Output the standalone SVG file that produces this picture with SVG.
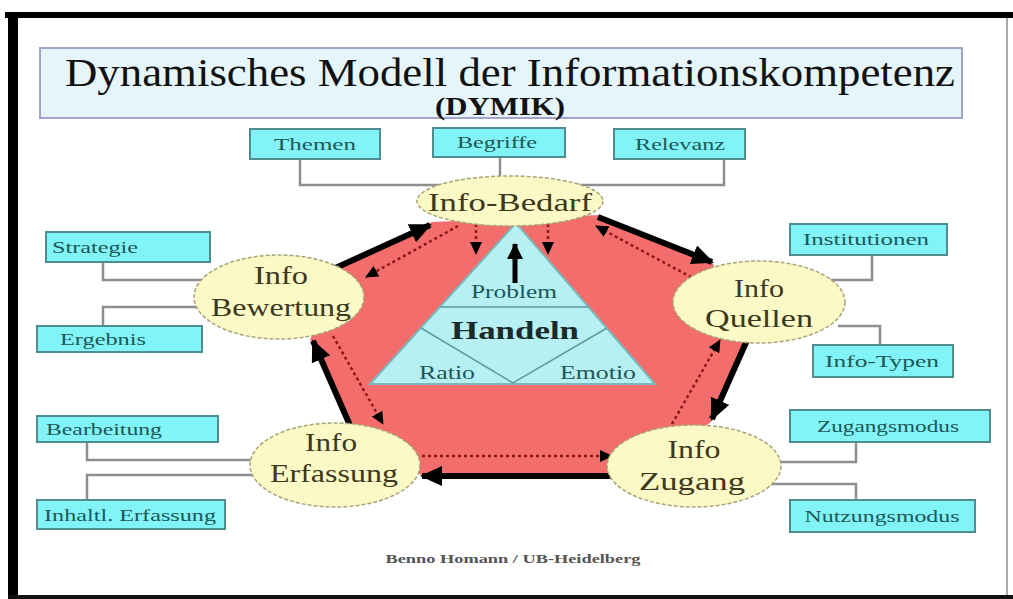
<svg xmlns="http://www.w3.org/2000/svg" width="1013" height="599" viewBox="0 0 1013 599">
<defs>
<marker id="ah" markerUnits="userSpaceOnUse" markerWidth="22" markerHeight="20" refX="20" refY="10" orient="auto"><path d="M0,0 L22,10 L0,20 z" fill="#000"/></marker>
<marker id="ad" markerUnits="userSpaceOnUse" markerWidth="13" markerHeight="12" refX="12" refY="6" orient="auto"><path d="M0,0 L13,6 L0,12 z" fill="#000"/></marker>
<marker id="au" markerUnits="userSpaceOnUse" markerWidth="16" markerHeight="16" refX="15" refY="8" orient="auto"><path d="M0,0 L16,8 L0,16 z" fill="#000"/></marker>
</defs>
<style>
.box{fill:#82f3f7;stroke:#4f8e90;stroke-width:2}
.bt{font-family:"Liberation Serif","Times New Roman",serif;font-size:17px;fill:#1d5858}
.el{fill:#fbf9c6;stroke:#a8a478;stroke-width:1.5;stroke-dasharray:4 2}
.et{font-family:"Liberation Serif","Times New Roman",serif;font-size:25px;fill:#3b381e;text-anchor:middle}
.con{fill:none;stroke:#8e8e8e;stroke-width:2.5}
.thick{fill:none;stroke:#000;stroke-width:6;marker-end:url(#ah)}
.dot{fill:none;stroke:#8a1a1a;stroke-width:2.5;stroke-dasharray:3 3;marker-end:url(#ad)}
.tt{font-family:"Liberation Serif","Times New Roman",serif;font-size:19px;fill:#1e5757;text-anchor:middle}
</style>
<rect x="0" y="0" width="1013" height="599" fill="#fff"/>
<g id="frame">
<rect x="5" y="12" width="1008" height="6" fill="#000"/>
<rect x="8" y="12" width="10" height="587" fill="#000"/>
<rect x="8" y="595" width="1005" height="4" fill="#111"/>
<rect x="1006" y="18" width="2" height="577" fill="#aaa"/>
</g>
<g id="title">
<rect x="40" y="48" width="922" height="70" fill="#e6f5fa" stroke="#a3a3cc" stroke-width="2"/>
<text x="510" y="86" font-family="Liberation Serif, Times New Roman, serif" font-size="40" fill="#111" text-anchor="middle" textLength="890" lengthAdjust="spacingAndGlyphs">Dynamisches Modell der Informationskompetenz</text>
<text x="500" y="115" font-family="Liberation Serif, Times New Roman, serif" font-size="25" font-weight="bold" fill="#111" text-anchor="middle" textLength="130" lengthAdjust="spacingAndGlyphs">(DYMIK)</text>
</g>
<g id="connectors">
<path class="con" d="M300,160 V185 H445"/>
<path class="con" d="M500,157 V180"/>
<path class="con" d="M724,160 V185 H575"/>
<path class="con" d="M103,262 V280 H205"/>
<path class="con" d="M103,326 V307 H200"/>
<path class="con" d="M872,255 V280 H830"/>
<path class="con" d="M838,326 H880 V345"/>
<path class="con" d="M775,462 H856 V442"/>
<path class="con" d="M770,484 H856 V500"/>
<path class="con" d="M87,442 V460 H258"/>
<path class="con" d="M258,475 H87 V500"/>
</g>
<g id="cycle">
<polygon points="337,267 432,222 600,215 712,262 748,335 713,420 690,440 615,476 422,476 350,425 310,340" fill="#f46d6d"/>
<path class="thick" d="M320,275 L430,225"/>
<path class="thick" d="M598,217 L712,262"/>
<path class="thick" d="M748,338 L712,419"/>
<path class="thick" d="M620,476 L422,476"/>
<path class="thick" d="M352,430 L313,341"/>
<path class="dot" d="M458,226 L366,277"/>
<path class="dot" d="M333,336 L383,424"/>
<path class="dot" d="M422,456 L612,456"/>
<path class="dot" d="M672,424 L720,340"/>
<path class="dot" d="M702,283 L596,226"/>
<path class="dot" d="M476,224 V254"/>
<path class="dot" d="M548,224 V254"/>
</g>
<g id="handeln">
<polygon points="516,223 370,384 655,384" fill="#b6f0f2" stroke="#7bb8ba" stroke-width="2"/>
<path d="M440,307 H589 M421,328 L513,383 L607,328" fill="none" stroke="#5c9c9e" stroke-width="1.5"/>
<path d="M515,283 V244" stroke="#000" stroke-width="5" marker-end="url(#au)"/>
<text class="tt" x="514" y="298" textLength="86" lengthAdjust="spacingAndGlyphs">Problem</text>
<text x="515" y="339" font-family="Liberation Serif, Times New Roman, serif" font-size="26" font-weight="bold" fill="#1a2a2a" text-anchor="middle" textLength="128" lengthAdjust="spacingAndGlyphs">Handeln</text>
<text class="tt" x="447" y="379" textLength="56" lengthAdjust="spacingAndGlyphs">Ratio</text>
<text class="tt" x="598" y="379" textLength="76" lengthAdjust="spacingAndGlyphs">Emotio</text>
</g>
<g id="bedarf">
<ellipse class="el" cx="510" cy="201" rx="93" ry="25"/>
<text class="et" x="510" y="211" font-size="28" textLength="164" lengthAdjust="spacingAndGlyphs">Info-Bedarf</text>
</g>
<g id="bewertung">
<ellipse class="el" cx="279" cy="297" rx="85" ry="42"/>
<text class="et" x="281" y="284" textLength="54" lengthAdjust="spacingAndGlyphs">Info</text>
<text class="et" x="281" y="316" textLength="140" lengthAdjust="spacingAndGlyphs">Bewertung</text>
</g>
<g id="quellen">
<ellipse class="el" cx="759" cy="302" rx="86" ry="41"/>
<text class="et" x="759" y="297" textLength="50" lengthAdjust="spacingAndGlyphs">Info</text>
<text class="et" x="759" y="327" textLength="108" lengthAdjust="spacingAndGlyphs">Quellen</text>
</g>
<g id="zugang">
<ellipse class="el" cx="694" cy="466" rx="87" ry="41"/>
<text class="et" x="694" y="458" textLength="53" lengthAdjust="spacingAndGlyphs">Info</text>
<text class="et" x="692" y="490" textLength="106" lengthAdjust="spacingAndGlyphs">Zugang</text>
</g>
<g id="erfassung">
<ellipse class="el" cx="335" cy="465" rx="85" ry="42"/>
<text class="et" x="331" y="451" textLength="52" lengthAdjust="spacingAndGlyphs">Info</text>
<text class="et" x="334" y="482" textLength="128" lengthAdjust="spacingAndGlyphs">Erfassung</text>
</g>
<g id="themen"><rect class="box" x="250" y="129" width="130" height="30"/><text class="bt" x="315" y="150" text-anchor="middle" textLength="82" lengthAdjust="spacingAndGlyphs">Themen</text></g>
<g id="begriffe"><rect class="box" x="433" y="128" width="132" height="29"/><text class="bt" x="497" y="148" text-anchor="middle" textLength="80" lengthAdjust="spacingAndGlyphs">Begriffe</text></g>
<g id="relevanz"><rect class="box" x="614" y="129" width="131" height="30"/><text class="bt" x="680" y="150" text-anchor="middle" textLength="90" lengthAdjust="spacingAndGlyphs">Relevanz</text></g>
<g id="strategie"><rect class="box" x="46" y="232" width="164" height="30"/><text class="bt" x="52" y="253" textLength="86" lengthAdjust="spacingAndGlyphs">Strategie</text></g>
<g id="ergebnis"><rect class="box" x="37" y="326" width="165" height="26"/><text class="bt" x="60" y="345" textLength="86" lengthAdjust="spacingAndGlyphs">Ergebnis</text></g>
<g id="institutionen"><rect class="box" x="790" y="224" width="157" height="31"/><text class="bt" x="866" y="245" text-anchor="middle" textLength="126" lengthAdjust="spacingAndGlyphs">Institutionen</text></g>
<g id="infotypen"><rect class="box" x="813" y="345" width="140" height="32"/><text class="bt" x="882" y="367" text-anchor="middle" textLength="114" lengthAdjust="spacingAndGlyphs">Info-Typen</text></g>
<g id="zugangsmodus"><rect class="box" x="790" y="410" width="200" height="32"/><text class="bt" x="888" y="432" text-anchor="middle" textLength="142" lengthAdjust="spacingAndGlyphs">Zugangsmodus</text></g>
<g id="nutzungsmodus"><rect class="box" x="790" y="500" width="185" height="32"/><text class="bt" x="882" y="522" text-anchor="middle" textLength="155" lengthAdjust="spacingAndGlyphs">Nutzungsmodus</text></g>
<g id="bearbeitung"><rect class="box" x="37" y="416" width="181" height="26"/><text class="bt" x="46" y="435" textLength="116" lengthAdjust="spacingAndGlyphs">Bearbeitung</text></g>
<g id="inhaltl"><rect class="box" x="37" y="500" width="188" height="29"/><text class="bt" x="44" y="521" textLength="172" lengthAdjust="spacingAndGlyphs">Inhaltl. Erfassung</text></g>
<g id="footer"><text x="513" y="563" font-family="Liberation Serif, Times New Roman, serif" font-size="13" font-weight="bold" fill="#555" text-anchor="middle" textLength="255" lengthAdjust="spacingAndGlyphs">Benno Homann / UB-Heidelberg</text></g>
</svg>
